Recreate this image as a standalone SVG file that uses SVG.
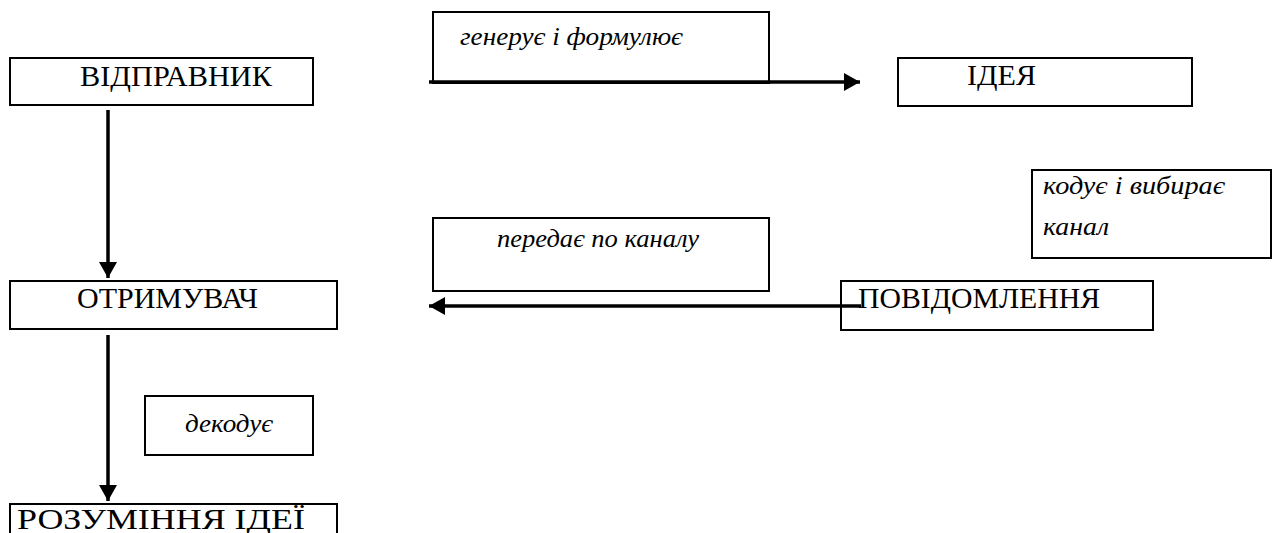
<svg xmlns="http://www.w3.org/2000/svg" width="1273" height="533" viewBox="0 0 1273 533">
<style>
.box{fill:#fff;stroke:#000;stroke-width:2}
.t{font-family:"Liberation Serif","Times New Roman",serif;font-size:29px;fill:#000}
.i{font-family:"Liberation Serif","Times New Roman",serif;font-size:26px;font-style:italic;fill:#000}
.c{stroke:#000;stroke-width:3.5;fill:none}
</style>
<defs>
<marker id="ah" markerUnits="userSpaceOnUse" markerWidth="16" markerHeight="18" refX="16" refY="9" orient="auto">
<polygon points="0,0 16,9 0,18" fill="#000"/>
</marker>
</defs>
<rect width="1273" height="533" fill="#fff"/>
<g id="sender">
<rect class="box" x="10" y="58" width="303" height="47"/>
<text class="t" x="80" y="86" textLength="192" lengthAdjust="spacingAndGlyphs">ВІДПРАВНИК</text>
</g>
<g id="label-generate">
<rect class="box" x="433" y="12" width="336" height="71"/>
<text class="i" x="460" y="45" textLength="223" lengthAdjust="spacingAndGlyphs">генерує і формулює</text>
</g>
<g id="idea">
<rect class="box" x="898" y="58" width="294" height="48"/>
<text class="t" x="967" y="85" textLength="69" lengthAdjust="spacingAndGlyphs">ІДЕЯ</text>
</g>
<g id="label-encode">
<rect class="box" x="1032" y="170" width="239" height="88"/>
<text class="i" x="1043" y="194" textLength="182" lengthAdjust="spacingAndGlyphs">кодує і вибирає</text>
<text class="i" x="1043" y="235" textLength="66" lengthAdjust="spacingAndGlyphs">канал</text>
</g>
<g id="label-transmit">
<rect class="box" x="433" y="218" width="336" height="73"/>
<text class="i" x="497" y="247" textLength="202" lengthAdjust="spacingAndGlyphs">передає по каналу</text>
</g>
<g id="receiver">
<rect class="box" x="10" y="281" width="327" height="48"/>
<text class="t" x="77" y="308" textLength="181" lengthAdjust="spacingAndGlyphs">ОТРИМУВАЧ</text>
</g>
<g id="message">
<rect class="box" x="841" y="281" width="312" height="49"/>
<text class="t" x="858" y="308" textLength="242" lengthAdjust="spacingAndGlyphs">ПОВІДОМЛЕННЯ</text>
</g>
<g id="label-decode">
<rect class="box" x="145" y="396" width="168" height="59"/>
<text class="i" x="185" y="432" textLength="88" lengthAdjust="spacingAndGlyphs">декодує</text>
</g>
<g id="understanding">
<rect class="box" x="10" y="504" width="327" height="40"/>
<text class="t" x="17" y="529" textLength="288" lengthAdjust="spacingAndGlyphs">РОЗУМІННЯ ІДЕЇ</text>
</g>
<g id="connectors">
<line class="c" x1="429" y1="82" x2="860" y2="82" marker-end="url(#ah)"/>
<line class="c" x1="108" y1="110" x2="108" y2="278" marker-end="url(#ah)"/>
<line class="c" x1="861" y1="306" x2="429" y2="306" marker-end="url(#ah)"/>
<line class="c" x1="108" y1="335" x2="108" y2="501" marker-end="url(#ah)"/>
</g>
</svg>
